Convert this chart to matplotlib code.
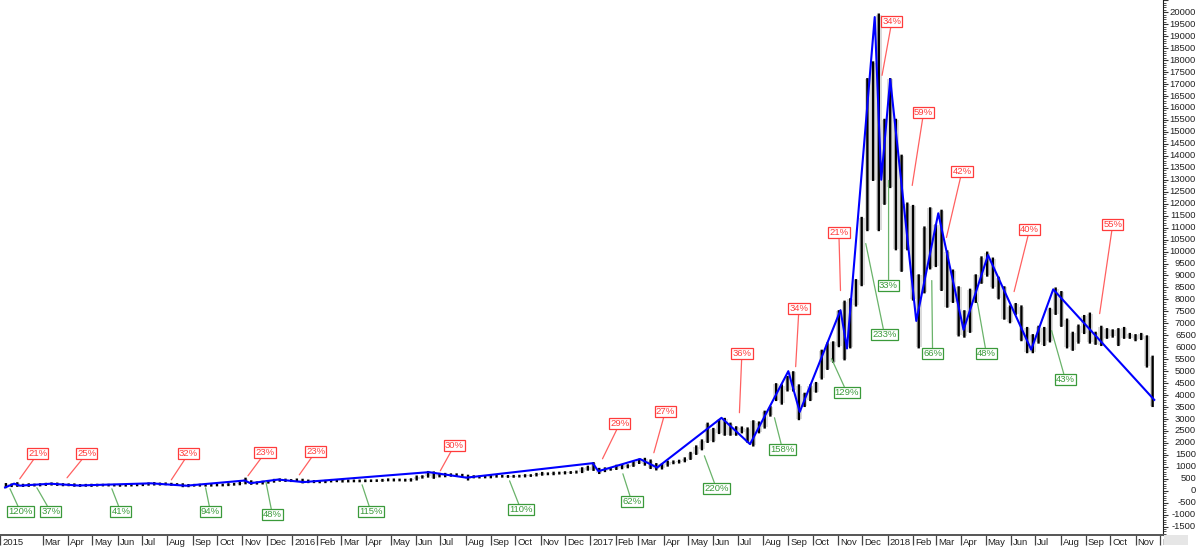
import matplotlib
matplotlib.use("Agg")
import matplotlib.pyplot as plt
import matplotlib.dates as mdates
import matplotlib.transforms as mtransforms
from matplotlib.patches import Rectangle
from matplotlib.ticker import MultipleLocator
import pandas as pd

plt.rcParams['font.family'] = ['Liberation Sans', 'DejaVu Sans']

# weekly high / low, weeks starting 2015-01-12 (Mondays)
week_high = [
    # 2015
    275, 255, 310, 245, 265, 250, 265, 285, 300, 295, 270, 260, 260, 235, 240, 245,
    245, 245, 245, 240, 230, 235, 250, 250, 265, 300, 315, 295, 300, 285, 270, 265,
    235, 240, 245, 240, 240, 245, 250, 270, 285, 330, 500, 390, 340, 370, 390, 450,
    470, 460, 440,
    # 2016
    465, 455, 420, 400, 390, 405, 445, 440, 440, 420, 420, 420, 425, 425, 430, 450,
    470, 465, 460, 455, 475, 590, 600, 780, 760, 700, 700, 680, 680, 660, 625, 600,
    590, 590, 610, 630, 615, 610, 615, 620, 645, 645, 700, 740, 720, 750, 750, 770,
    775, 795, 935, 1000,
    # 2017
    1150, 910, 930, 925, 1040, 1060, 1060, 1190, 1290, 1330, 1260, 1110, 1100, 1210,
    1220, 1250, 1350, 1580, 1850, 2100, 2800, 2580, 2950, 3000, 2800, 2650, 2640, 2600,
    2900, 2850, 3300, 3500, 4450, 4400, 4750, 4950, 4400, 4050, 4400, 4500, 5850, 6150,
    6200, 7500, 7900, 8000, 8800, 11400, 17200, 17900, 19900, 15500,
    # 2018
    17200, 15500, 14000, 12000, 11900, 9000, 11000, 11800, 11100, 11700, 10000, 9200,
    8500, 7500, 8400, 9000, 9750, 9950, 9700, 8900, 8500, 7700, 7800, 7700, 6800, 6500,
    6850, 6800, 7600, 8450, 8300, 7150, 6600, 6900, 7300, 7400, 6600, 6850, 6750, 6700,
    6750, 6800, 6550, 6500, 6550, 6450, 5600,
]
week_low = [
    # 2015
    160, 205, 215, 210, 215, 230, 235, 255, 270, 255, 240, 240, 220, 215, 220, 215,
    230, 235, 232, 230, 220, 225, 230, 240, 245, 265, 270, 270, 280, 260, 255, 200,
    200, 225, 225, 225, 225, 235, 235, 245, 265, 280, 320, 300, 310, 315, 350, 390,
    430, 420, 415,
    # 2016
    425, 360, 370, 370, 365, 370, 400, 410, 395, 400, 405, 405, 410, 415, 420, 425,
    445, 440, 445, 435, 435, 480, 560, 600, 550, 610, 615, 640, 650, 640, 480, 570,
    565, 570, 570, 600, 600, 590, 595, 605, 610, 630, 650, 680, 700, 700, 730, 735,
    755, 770, 790, 890,
    # 2017
    880, 750, 830, 890, 920, 950, 990, 1050, 1170, 1100, 960, 900, 940, 1060,
    1160, 1190, 1240, 1340, 1550, 1740, 2050, 2080, 2420, 2350, 2350, 2350, 2450, 2050,
    1900, 2450, 2650, 3150, 3800, 3650, 4200, 4200, 3000, 3550, 3800, 4150, 4700, 5100,
    5400, 6050, 5500, 6000, 7750, 8600, 10900, 13000, 10900, 12000,
    # 2018
    12700, 10100, 9200, 10100, 8000, 6000, 8300, 9300, 9400, 8400, 7700, 7900,
    6500, 6450, 6650, 7900, 8700, 9000, 8500, 8050, 7200, 7050, 7400, 6300, 5800, 5800,
    6200, 6100, 6250, 7400, 6900, 6000, 5900, 6200, 6600, 6200, 6150, 6100, 6400, 6450,
    6100, 6400, 6400, 6300, 6350, 5200, 3550,
]
week_start = pd.date_range("2015-01-12", periods=len(week_high), freq="7D")

# zigzag swing points
zz_dates = [
    "2015-01-14", "2015-01-25", "2015-02-01", "2015-03-11", "2015-04-14", "2015-07-12",
    "2015-08-24", "2015-11-04", "2015-11-11", "2015-12-15", "2016-01-15", "2016-06-17",
    "2016-08-02", "2017-01-04", "2017-01-11", "2017-03-03", "2017-03-24", "2017-06-11",
    "2017-07-16", "2017-09-01", "2017-09-15", "2017-11-04", "2017-11-12", "2017-12-16",
    "2017-12-24", "2018-01-04", "2018-02-05", "2018-03-04", "2018-04-04", "2018-05-04",
    "2018-06-26", "2018-07-23", "2018-11-24",
]
zz_values = [
    140, 300, 216, 296, 222, 313, 213, 430, 318, 471, 363, 780,
    550, 1155, 820, 1330, 970, 3050, 1950, 5000, 3300, 7550, 5950, 19800,
    13000, 17200, 7100, 11600, 6730, 9850, 5900, 8420, 3800,
]

# swing labels: text, label centre (date, price), leader tip (date, price)
down_text = ["21%", "25%", "32%", "23%", "23%", "30%", "29%", "27%",
             "36%", "34%", "21%", "34%", "59%", "42%", "40%", "55%"]
down_pos = [("2015-02-23", 1548), ("2015-04-24", 1548), ("2015-08-27", 1548),
            ("2015-11-29", 1590), ("2016-01-30", 1632), ("2016-07-18", 1883),
            ("2017-02-06", 2803), ("2017-04-03", 3305), ("2017-07-06", 5732),
            ("2017-09-14", 7615), ("2017-11-02", 10795), ("2018-01-06", 19623),
            ("2018-02-14", 15816), ("2018-04-02", 13347), ("2018-06-24", 10921),
            ("2018-10-04", 11130)]
down_tip = [("2015-02-01", 502), ("2015-03-31", 544), ("2015-08-06", 460),
            ("2015-11-08", 628), ("2016-01-10", 669), ("2016-07-01", 837),
            ("2017-01-16", 1339), ("2017-03-20", 1590), ("2017-07-03", 3264),
            ("2017-09-10", 5188), ("2017-11-04", 8368), ("2017-12-25", 17364),
            ("2018-01-31", 12762), ("2018-03-14", 10586), ("2018-06-05", 8326),
            ("2018-09-18", 7406)]
up_text = ["120%", "37%", "41%", "94%", "48%", "115%", "110%", "62%",
           "220%", "158%", "129%", "233%", "33%", "66%", "48%", "43%"]
up_pos = [("2015-02-02", -879), ("2015-03-11", -879), ("2015-06-05", -879),
          ("2015-09-23", -879), ("2015-12-08", -1004), ("2016-04-07", -879),
          ("2016-10-08", -795), ("2017-02-21", -460), ("2017-06-05", 84),
          ("2017-08-25", 1715), ("2017-11-12", 4100), ("2017-12-28", 6527),
          ("2018-01-02", 8577), ("2018-02-25", 5732), ("2018-05-02", 5732),
          ("2018-08-07", 4644)]
up_tip = [("2015-01-20", 84), ("2015-02-22", 126), ("2015-05-25", 84),
          ("2015-09-17", 126), ("2015-11-30", 377), ("2016-03-27", 251),
          ("2016-09-24", 418), ("2017-02-10", 711), ("2017-05-21", 1464),
          ("2017-08-15", 3054), ("2017-10-24", 5523), ("2017-12-05", 10335),
          ("2018-01-02", 12971), ("2018-02-24", 8787), ("2018-04-21", 7866),
          ("2018-07-21", 6695)]


def dnum(s):
    return mdates.date2num(pd.Timestamp(s))


fig = plt.figure(figsize=(12, 5.49), dpi=100)
ax = fig.add_axes([0, 14 / 549, 1163 / 1200, 535 / 549])
ax.set_xlim(dnum("2015-01-07 18:00"), dnum("2018-12-04 17:00"))
ax.set_ylim(-1847, 20513)

# price bars: faint weekly range band plus black bars
bar_x = mdates.date2num(week_start + pd.Timedelta(days=3))
ax.fill_between(bar_x, week_low, week_high, step="mid", color="#9a9a9a",
                lw=0, alpha=0.35, zorder=2)
bars = ax.vlines(bar_x, week_low, week_high, color="black", lw=1.7,
                 capstyle="projecting", zorder=2)
bars.set_snap(False)

# zigzag
ax.plot([dnum(d) for d in zz_dates], zz_values, color="#0000ff", lw=1.5, zorder=3)

def put_labels(texts, pos, tips, tcol, lcol):
    for t, (pd_, pv), (td, tv) in zip(texts, pos, tips):
        ax.annotate(t, xy=(dnum(td), tv), xytext=(dnum(pd_), pv),
                    ha="center", va="center", fontsize=6.8, color=tcol, zorder=5,
                    bbox=dict(boxstyle="square,pad=0.12", fc="white", ec=tcol, lw=0.9),
                    arrowprops=dict(arrowstyle="-", color=lcol, lw=0.9,
                                    shrinkA=0, shrinkB=0))

put_labels(down_text, down_pos, down_tip, "#ff3b3b", "#ff6060")
put_labels(up_text, up_pos, up_tip, "#3a9a3a", "#6ab36a")

# spines
for s in ["top", "left"]:
    ax.spines[s].set_visible(False)
ax.spines["right"].set_color("#202020")
ax.spines["bottom"].set_color("#555555")
ax.spines["bottom"].set_linewidth(1.4)

# x axis: month separators with labels to their right
months = pd.date_range("2015-03-01", "2018-12-01", freq="MS")
tick_x = [ax.get_xlim()[0]] + [mdates.date2num(m) for m in months]
tick_lbl = ["2015"] + [str(m.year) if m.month == 1 else m.strftime("%b") for m in months]
ax.set_xticks(tick_x)
ax.set_xticklabels([])
ax.tick_params(axis="x", direction="out", length=7.5, width=0.9, color="#444444")
xtrans = mtransforms.blended_transform_factory(ax.transData, ax.transAxes)
for xv, lb in zip(tick_x, tick_lbl):
    ax.text(xv + 2.5, -0.006, lb, transform=xtrans, ha="left", va="top",
            fontsize=6.8, color="#222222", clip_on=False)

# y axis on the right
ax.yaxis.tick_right()
ax.yaxis.set_major_locator(MultipleLocator(500))
ax.yaxis.set_minor_locator(MultipleLocator(100))
ax.tick_params(axis="y", which="major", length=3.5, width=0.8, labelright=False, color="#333333")
ax.tick_params(axis="y", which="minor", length=1.8, width=0.6, color="#333333")
ytrans = mtransforms.blended_transform_factory(ax.transAxes, ax.transData)
for v in range(-1500, 20001, 500):
    ax.text(1196 / 1163, v, str(v), transform=ytrans, ha="right", va="center",
            fontsize=6.8, color="#222222", clip_on=False)

fig.add_artist(Rectangle((1164 / 1200, 4 / 549), 24 / 1200, 10 / 549,
                         transform=fig.transFigure, fc="#e6e6e6", ec="none", zorder=10))

fig.savefig("out.png", dpi=100)
